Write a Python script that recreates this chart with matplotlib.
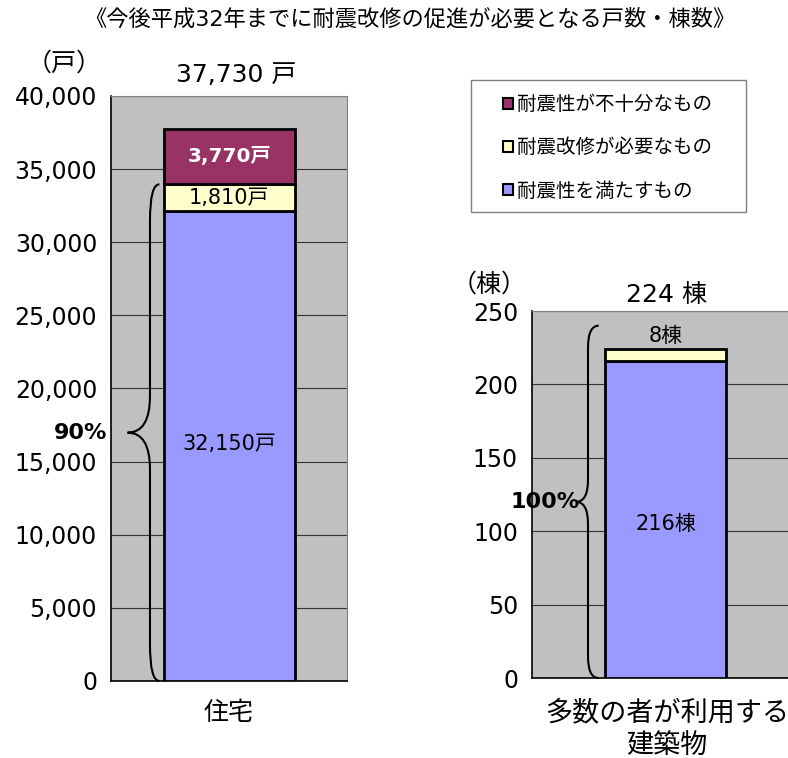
import matplotlib
matplotlib.use('Agg')
import matplotlib.pyplot as plt
from matplotlib.path import Path
from matplotlib.patches import PathPatch, Patch, Rectangle

plt.rcParams['font.family'] = ['DejaVu Sans', 'Noto Sans CJK JP']
和文 = ['Noto Sans CJK JP', 'DejaVu Sans']

# データ
系列名 = ['耐震性を満たすもの', '耐震改修が必要なもの', '耐震性が不十分なもの']
色 = ['#9999FF', '#FFFFCC', '#993366']
住宅 = [32150, 1810, 3770]
建築物 = [216, 8, 0]
住宅ラベル = ['32,150戸', '1,810戸', '3,770戸']
建築物ラベル = ['216棟', '8棟']
住宅目盛 = list(range(0, 40001, 5000))
建築物目盛 = list(range(0, 251, 50))


def 括弧(ax, x, xtip, w, y0, y1, d):
    ymid = (y0 + y1) / 2
    verts = [(x + w, y1), (x, y1), (x, y1 - d),
             (x, ymid + d), (x, ymid), (xtip, ymid),
             (x, ymid), (x, ymid - d),
             (x, y0 + d), (x, y0), (x + w, y0)]
    codes = [Path.MOVETO, Path.CURVE3, Path.CURVE3,
             Path.LINETO, Path.CURVE3, Path.CURVE3,
             Path.CURVE3, Path.CURVE3,
             Path.LINETO, Path.CURVE3, Path.CURVE3]
    ax.add_patch(PathPatch(Path(verts, codes), fill=False, lw=1.5,
                           color='black', clip_on=False, zorder=5))


def 軸設定(ax, 目盛, 上限):
    ax.set_facecolor('#C0C0C0')
    ax.set_xlim(-0.5, 0.5)
    ax.set_ylim(0, 上限)
    ax.set_yticks(目盛)
    ax.set_xticks([])
    ax.grid(axis='y', color='#333333', lw=0.8)
    ax.set_axisbelow(True)
    ax.tick_params(axis='y', length=0, pad=10, labelsize=17)
    for s in ['top', 'right']:
        ax.spines[s].set_color('#808080')
    for s in ['left', 'bottom']:
        ax.spines[s].set_color('black')
        ax.spines[s].set_linewidth(1.2)


fig = plt.figure(figsize=(7.88, 7.58), dpi=100)
ax1 = fig.add_axes([0.1409, 0.1016, 0.2995, 0.7718])
ax2 = fig.add_axes([0.675, 0.1055, 0.339, 0.4842])

軸設定(ax1, 住宅目盛, 40000)
ax1.set_yticklabels([f'{v:,}' for v in 住宅目盛])
軸設定(ax2, 建築物目盛, 250)

下 = 0
for v, c in zip(住宅, 色):
    ax1.bar(0, v, 0.555, bottom=下, color=c, edgecolor='black', lw=2, zorder=3)
    下 += v
下 = 0
for v, c in zip(建築物, 色):
    if v > 0:
        ax2.bar(0, v, 0.453, bottom=下, color=c, edgecolor='black', lw=2, zorder=3)
    下 += v

# 棒の中の数値
ax1.text(0, 16200, 住宅ラベル[0], ha='center', va='center', fontsize=15)
ax1.text(0, 32150 + 1810 / 2, 住宅ラベル[1], ha='center', va='center', fontsize=15)
ax1.text(0, 33960 + 3770 / 2, 住宅ラベル[2], ha='center', va='center',
         fontsize=14.5, color='white', fontweight='bold')
ax2.text(0, 105, 建築物ラベル[0], ha='center', va='center', fontsize=15)
ax2.text(0, 233, 建築物ラベル[1], ha='center', va='center', fontsize=15)

# 合計
ax1.text(0.03, 40600, '37,730 戸', ha='center', va='bottom', fontsize=18)
ax2.text(0.005, 253, '224 棟', ha='center', va='bottom', fontsize=18)
ax1.text(-0.70, 41300, '（戸）', ha='center', va='bottom', fontsize=18, family=和文)
ax2.text(-0.66, 259, '（棟）', ha='center', va='bottom', fontsize=18, family=和文)

# 括弧と割合
括弧(ax1, -0.335, -0.43, 0.04, 0, 33960, 2500)
ax1.text(-0.63, 16980, '90%', ha='center', va='center', fontsize=16,
         fontweight='bold')
括弧(ax2, -0.29, -0.335, 0.04, 0, 240, 15)
ax2.text(-0.45, 120, '100%', ha='center', va='center', fontsize=16,
         fontweight='bold', zorder=6)

# 横軸ラベル
fig.text(229 / 788, 1 - 713 / 758, '住宅', ha='center', va='center', fontsize=18,
         family=和文)
fig.text(667 / 788, 1 - 729 / 758, '多数の者が利用する\n建築物', ha='center',
         va='center', fontsize=19.5, linespacing=1.25, family=和文)

# タイトル
fig.text(410 / 788, 1 - 19 / 758, '《今後平成32年までに耐震改修の促進が必要となる戸数・棟数》',
         ha='center', va='center', fontsize=16)

# 凡例（枠は別に描く）
fig.patches.append(Rectangle((471 / 788, 1 - 212 / 758), 275 / 788, 132 / 758,
                             transform=fig.transFigure, facecolor='white',
                             edgecolor='#808080', lw=1, zorder=0))
handles = [Patch(facecolor=c, edgecolor='black', lw=1.5) for c in 色[::-1]]
leg = fig.legend(handles, 系列名[::-1], loc='upper left',
                 bbox_to_anchor=(503 / 788, 1 - 95 / 758), fontsize=14,
                 handlelength=0.5, handleheight=0.5, handletextpad=0.2,
                 labelspacing=1.25, borderpad=0, borderaxespad=0,
                 frameon=False)

fig.savefig('out.png', dpi=100)
